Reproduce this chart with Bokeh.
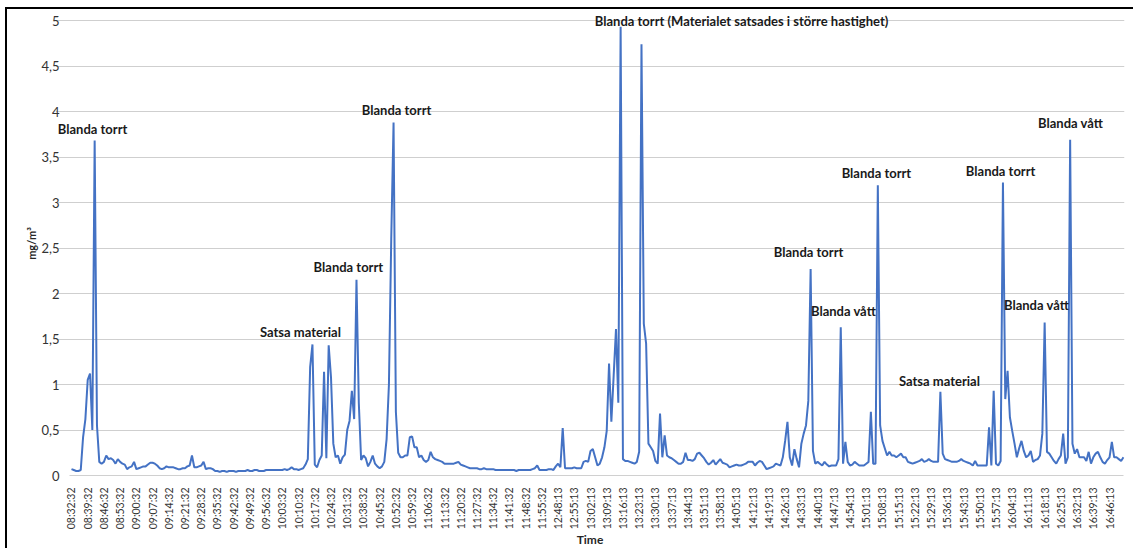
import math
from bokeh.plotting import figure
from bokeh.models import FixedTicker, Range1d, Label, ColumnDataSource
from bokeh.embed import file_html
from bokeh.resources import INLINE

# x tick labels (every 7th sample; one sample per minute)
tick_labels = [
    "08:32:32", "08:39:32", "08:46:32", "08:53:32", "09:00:32", "09:07:32", "09:14:32",
    "09:21:32", "09:28:32", "09:35:32", "09:42:32", "09:49:32", "09:56:32", "10:03:32",
    "10:10:32", "10:17:32", "10:24:32", "10:31:32", "10:38:32", "10:45:32", "10:52:32",
    "10:59:32", "11:06:32", "11:13:32", "11:20:32", "11:27:32", "11:34:32", "11:41:32",
    "11:48:32", "11:55:32",
    "12:48:13", "12:55:13", "13:02:13", "13:09:13", "13:16:13", "13:23:13", "13:30:13",
    "13:37:13", "13:44:13", "13:51:13", "13:58:13", "14:05:13", "14:12:13", "14:19:13",
    "14:26:13", "14:33:13", "14:40:13", "14:47:13", "14:54:13", "15:01:13", "15:08:13",
    "15:15:13", "15:22:13", "15:29:13", "15:36:13", "15:43:13", "15:50:13", "15:57:13",
    "16:04:13", "16:11:13", "16:18:13", "16:25:13", "16:32:13", "16:39:13", "16:46:13",
]

# dust concentration, mg/m3 (one value per sample)
concentration = [
    0.07, 0.06, 0.05, 0.05, 0.06, 0.42, 0.62, 1.05, 1.12, 0.50,
    3.68, 0.55, 0.15, 0.13, 0.15, 0.22, 0.18, 0.19, 0.17, 0.13,
    0.18, 0.15, 0.13, 0.12, 0.07, 0.09, 0.10, 0.15, 0.07, 0.08,
    0.09, 0.10, 0.10, 0.12, 0.14, 0.14, 0.13, 0.11, 0.08, 0.07,
    0.08, 0.10, 0.09, 0.09, 0.09, 0.08, 0.07, 0.07, 0.08, 0.08,
    0.10, 0.11, 0.22, 0.09, 0.09, 0.10, 0.11, 0.15, 0.07, 0.08,
    0.08, 0.07, 0.05, 0.05, 0.04, 0.05, 0.05, 0.04, 0.05, 0.05,
    0.05, 0.04, 0.05, 0.05, 0.05, 0.05, 0.06, 0.05, 0.05, 0.06,
    0.06, 0.05, 0.05, 0.05, 0.06, 0.06, 0.06, 0.06, 0.06, 0.06,
    0.06, 0.06, 0.07, 0.06, 0.07, 0.09, 0.07, 0.07, 0.06, 0.07,
    0.08, 0.12, 0.18, 1.19, 1.44, 0.12, 0.09, 0.17, 0.22, 1.14,
    0.19, 1.43, 1.08, 0.35, 0.20, 0.22, 0.13, 0.20, 0.23, 0.50,
    0.60, 0.93, 0.62, 2.15, 0.80, 0.17, 0.22, 0.19, 0.10, 0.15,
    0.22, 0.13, 0.10, 0.08, 0.10, 0.15, 0.40, 1.00, 2.60, 3.88,
    0.70, 0.25, 0.20, 0.20, 0.22, 0.22, 0.42, 0.43, 0.31, 0.31,
    0.20, 0.22, 0.17, 0.15, 0.17, 0.26, 0.20, 0.18, 0.17, 0.16,
    0.15, 0.13, 0.13, 0.13, 0.13, 0.13, 0.14, 0.15, 0.12, 0.11,
    0.10, 0.09, 0.08, 0.08, 0.08, 0.08, 0.07, 0.07, 0.08, 0.07,
    0.07, 0.07, 0.07, 0.06, 0.06, 0.06, 0.06, 0.06, 0.06, 0.06,
    0.06, 0.06, 0.05, 0.06, 0.06, 0.06, 0.06, 0.06, 0.06, 0.07,
    0.08, 0.11, 0.06, 0.06, 0.06, 0.06, 0.07, 0.07, 0.06, 0.10,
    0.13, 0.09, 0.52, 0.08, 0.08, 0.08, 0.08, 0.09, 0.08, 0.08,
    0.08, 0.15, 0.16, 0.15, 0.27, 0.29, 0.20, 0.11, 0.13, 0.20,
    0.31, 0.49, 1.23, 0.59, 1.10, 1.61, 0.80, 4.93, 0.18, 0.16,
    0.16, 0.15, 0.14, 0.13, 0.15, 0.26, 4.74, 1.67, 1.45, 0.35,
    0.31, 0.27, 0.16, 0.13, 0.68, 0.20, 0.44, 0.22, 0.20, 0.19,
    0.17, 0.15, 0.13, 0.13, 0.15, 0.25, 0.17, 0.17, 0.16, 0.18,
    0.24, 0.25, 0.22, 0.19, 0.15, 0.12, 0.14, 0.17, 0.12, 0.15,
    0.18, 0.14, 0.13, 0.12, 0.09, 0.10, 0.11, 0.12, 0.11, 0.11,
    0.12, 0.13, 0.15, 0.15, 0.15, 0.11, 0.14, 0.16, 0.15, 0.11,
    0.07, 0.08, 0.09, 0.10, 0.13, 0.12, 0.11, 0.20, 0.38, 0.59,
    0.20, 0.11, 0.29, 0.18, 0.09, 0.35, 0.46, 0.55, 0.82, 2.27,
    0.27, 0.13, 0.15, 0.13, 0.11, 0.15, 0.12, 0.10, 0.11, 0.11,
    0.11, 0.18, 1.63, 0.13, 0.37, 0.15, 0.11, 0.12, 0.15, 0.13,
    0.11, 0.11, 0.11, 0.13, 0.15, 0.70, 0.13, 0.13, 3.19, 0.55,
    0.38, 0.30, 0.22, 0.26, 0.22, 0.22, 0.20, 0.22, 0.24, 0.20,
    0.20, 0.15, 0.14, 0.13, 0.14, 0.15, 0.16, 0.18, 0.15, 0.16,
    0.18, 0.16, 0.15, 0.15, 0.15, 0.92, 0.24, 0.18, 0.17, 0.16,
    0.15, 0.15, 0.15, 0.16, 0.18, 0.16, 0.15, 0.14, 0.13, 0.11,
    0.16, 0.11, 0.11, 0.11, 0.11, 0.11, 0.53, 0.11, 0.93, 0.13,
    0.11, 0.16, 3.22, 0.84, 1.15, 0.64, 0.49, 0.35, 0.20, 0.30,
    0.38, 0.27, 0.20, 0.22, 0.27, 0.15, 0.17, 0.18, 0.22, 0.46,
    1.68, 0.26, 0.24, 0.20, 0.16, 0.13, 0.18, 0.22, 0.46, 0.13,
    0.20, 3.69, 0.35, 0.24, 0.29, 0.20, 0.20, 0.20, 0.16, 0.26,
    0.13, 0.20, 0.24, 0.26, 0.20, 0.15, 0.13, 0.17, 0.20, 0.37,
    0.20, 0.20, 0.18, 0.16, 0.20,
]

y_ticks = [0, 0.5, 1, 1.5, 2, 2.5, 3, 3.5, 4, 4.5, 5]
y_tick_labels = ["0", "0,5", "1", "1,5", "2", "2,5", "3", "3,5", "4", "4,5", "5"]

annotation_texts = [
    "Blanda torrt", "Satsa material", "Blanda torrt", "Blanda torrt",
    "Blanda torrt (Materialet satsades i större hastighet)",
    "Blanda torrt", "Blanda vått", "Blanda torrt", "Satsa material",
    "Blanda torrt", "Blanda vått", "Blanda vått",
]
annotation_x = [9.1, 98.8, 119.5, 140.3, 289.2, 318.1, 333.2, 347.4, 374.6, 401.0, 416.5, 431.2]
annotation_y = [3.81, 1.58, 2.29, 4.02, 5.0, 2.46, 1.81, 3.32, 1.04, 3.35, 1.87, 3.87]

FONT = "Lato"
X_START, X_END = -0.86, 454.1

sample_index = list(range(len(concentration)))
source = ColumnDataSource(data=dict(x=sample_index, y=concentration))

p = figure(
    width=1128, height=541,
    output_backend="svg", toolbar_location=None,
    x_range=Range1d(-6.9, 454.46), y_range=Range1d(0, 5.099),
    min_border_left=48, min_border_right=11, min_border_top=2, min_border_bottom=75,
)
p.styles = {
    "border-left": "2px solid black",
    "border-top": "2px solid black",
    "margin-left": "5px",
    "margin-top": "7px",
}
p.outline_line_color = None
p.background_fill_color = "white"
p.border_fill_color = "white"

p.line("x", "y", source=source, line_color="#4472C4", line_width=2)

# axes
xa = p.xaxis[0]
xa.bounds = (X_START, X_END)
xa.ticker = FixedTicker(ticks=[7 * k for k in range(len(tick_labels))])
xa.major_label_overrides = {7 * k: lbl for k, lbl in enumerate(tick_labels)}
xa.major_label_orientation = math.pi / 2
xa.major_label_text_font = FONT
xa.major_label_text_font_size = "10.5px"
xa.major_label_text_color = "#333333"
xa.major_label_standoff = 6
xa.major_tick_line_color = None
xa.minor_tick_line_color = None
xa.axis_line_color = "#d0d0d0"
xa.axis_label = "Time"
xa.axis_label_text_font = FONT
xa.axis_label_text_font_style = "bold"
xa.axis_label_text_font_size = "12px"
xa.axis_label_text_color = "#262626"
xa.axis_label_standoff = 0

ya = p.yaxis[0]
ya.ticker = FixedTicker(ticks=y_ticks)
ya.major_label_overrides = {t: l for t, l in zip(y_ticks, y_tick_labels)}
ya.major_label_text_font = FONT
ya.major_label_text_font_size = "13px"
ya.major_label_text_color = "#333333"
ya.major_label_standoff = -10
ya.major_tick_line_color = None
ya.minor_tick_line_color = None
ya.axis_line_color = None
ya.axis_label = "mg/m³"
ya.axis_label_text_font = FONT
ya.axis_label_text_font_style = "bold"
ya.axis_label_text_font_size = "11px"
ya.axis_label_text_color = "#262626"
ya.axis_label_standoff = 0

p.xgrid.grid_line_color = None
p.ygrid.grid_line_color = "#cfcfcf"
p.ygrid.grid_line_width = 1
p.ygrid.bounds = (X_START, X_END)

for t, x, y in zip(annotation_texts, annotation_x, annotation_y):
    p.add_layout(Label(
        x=x, y=y, text=t, text_align="center", text_baseline="middle",
        text_font=FONT, text_font_style="bold", text_font_size="13px",
        text_color="#1a1a1a",
    ))

open("out.html", "w").write(file_html(p, INLINE))
